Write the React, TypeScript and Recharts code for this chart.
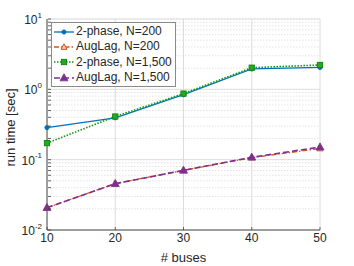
import React from 'react';
import { LineChart, Line, XAxis, YAxis, CartesianGrid, Legend } from 'recharts';

const buses = [10, 20, 30, 40, 50];
const twoPhase200 = [0.286, 0.394, 0.84, 1.95, 2.05];
const augLag200 = [0.0208, 0.0457, 0.0705, 0.107, 0.144];
const twoPhase1500 = [0.172, 0.411, 0.87, 2.03, 2.22];
const augLag1500 = [0.0208, 0.0455, 0.0705, 0.108, 0.151];

const xTicks = [10, 20, 30, 40, 50];
const majorTicks = [0.01, 0.1, 1, 10];
const minorTicks = [
  0.02, 0.03, 0.04, 0.05, 0.06, 0.07, 0.08, 0.09,
  0.2, 0.3, 0.4, 0.5, 0.6, 0.7, 0.8, 0.9,
  2, 3, 4, 5, 6, 7, 8, 9,
];
const allYTicks = [...majorTicks, ...minorTicks].sort((a, b) => a - b);
const exponents: Record<string, string> = { '0.01': '-2', '0.1': '-1', '1': '0', '10': '1' };

const data = buses.map((b, i) => ({
  buses: b,
  tp200: twoPhase200[i],
  al200: augLag200[i],
  tp1500: twoPhase1500[i],
  al1500: augLag1500[i],
}));

const series = [
  { key: 'tp200', name: '2-phase, N=200', color: '#0072BD', dash: undefined as string | undefined, width: 1.3, marker: 'dot' },
  { key: 'al200', name: 'AugLag, N=200', color: '#D95319', dash: '5 2 1.5 2', width: 1.3, marker: 'openTri' },
  { key: 'tp1500', name: '2-phase, N=1,500', color: '#119911', dash: '1.5 1.5', width: 1.6, marker: 'square' },
  { key: 'al1500', name: 'AugLag, N=1,500', color: '#7E2F8E', dash: '6 3', width: 1.6, marker: 'tri' },
];

const AX = '#404040';
const TXT = '#262626';
const FONT = '"Liberation Sans", Arial, Helvetica, sans-serif';

function Marker({ type, cx, cy, color }: { type: string; cx: number; cy: number; color: string }) {
  if (type === 'dot') return <circle cx={cx} cy={cy} r={2.1} fill={color} stroke={color} />;
  if (type === 'square')
    return <rect x={cx - 2.6} y={cy - 2.6} width={5.2} height={5.2} fill="#22aa22" stroke="#118811" strokeWidth={1} />;
  if (type === 'openTri')
    return <path d={`M${cx},${cy - 3.2} L${cx + 3},${cy + 2.3} L${cx - 3},${cy + 2.3} Z`} fill="#f4c8b0" stroke={color} strokeWidth={1} />;
  return <path d={`M${cx},${cy - 4.2} L${cx + 4},${cy + 2.8} L${cx - 4},${cy + 2.8} Z`} fill={color} stroke={color} strokeWidth={0.8} />;
}

const makeDot = (type: string, color: string) => (props: any) => {
  const { cx, cy, index } = props;
  if (cx == null || cy == null) return <g key={`n${index}`} />;
  return (
    <g key={`${type}-${index}`}>
      <Marker type={type} cx={cx} cy={cy} color={color} />
    </g>
  );
};

const YTickLeft = (props: any) => {
  const { x, y, payload } = props;
  const exp = exponents[String(payload.value)];
  return (
    <g>
      <line x1={x + 6} x2={x + 9} y1={y} y2={y} stroke={AX} strokeWidth={0.8} />
      {exp !== undefined && (
        <text x={x} y={y + 5} textAnchor="end" fontSize={12} fill={TXT} fontFamily={FONT}>
          <tspan>10</tspan>
          <tspan dy={-6.5} fontSize={8}>{exp}</tspan>
        </text>
      )}
    </g>
  );
};

const YTickRight = (props: any) => {
  const { x, y } = props;
  return <line x1={x} x2={x - 3} y1={y} y2={y} stroke={AX} strokeWidth={0.8} />;
};

const XTickBottom = (props: any) => {
  const { x, y, payload } = props;
  return (
    <g>
      <line x1={x} x2={x} y1={y - 3} y2={y - 6} stroke={AX} strokeWidth={0.8} />
      <text x={x} y={y + 9} textAnchor="middle" fontSize={12} fill={TXT} fontFamily={FONT}>
        {payload.value}
      </text>
    </g>
  );
};

const XTickTop = (props: any) => {
  const { x, y } = props;
  return <line x1={x} x2={x} y1={y} y2={y + 3} stroke={AX} strokeWidth={0.8} />;
};

const YLabel = (props: any) => {
  const vb = props.viewBox || { x: 0, y: 19, width: 47, height: 211 };
  const cx = vb.x + 15;
  const cy = vb.y + vb.height / 2 + 3;
  return (
    <text x={cx} y={cy} transform={`rotate(-90, ${cx}, ${cy})`} textAnchor="middle" fontSize={13} fill={TXT} fontFamily={FONT}>
      run time [sec]
    </text>
  );
};

const XLabel = (props: any) => {
  const vb = props.viewBox || { x: 47, y: 230, width: 273, height: 36 };
  return (
    <text x={vb.x + vb.width / 2} y={vb.y + 32} textAnchor="middle" fontSize={13} fill={TXT} fontFamily={FONT}>
      # buses
    </text>
  );
};

const renderLegend = () => (
  <div
    style={{
      background: '#fff',
      border: '1px solid #8a8a8a',
      padding: '1px 3px 1px 1px',
      fontFamily: FONT,
      fontSize: 12,
      color: TXT,
      lineHeight: '15.3px',
      display: 'inline-block',
    }}
  >
    {series.map((s) => (
      <div key={s.key} style={{ display: 'flex', alignItems: 'center', whiteSpace: 'nowrap' }}>
        <svg width={22} height={12} style={{ marginRight: 1 }}>
          <line x1={1} x2={21} y1={6} y2={6} stroke={s.color} strokeWidth={s.width} strokeDasharray={s.dash} />
          <Marker type={s.marker} cx={11} cy={6} color={s.color} />
        </svg>
        <span>{s.name}</span>
      </div>
    ))}
  </div>
);

export default function App() {
  return (
    <div style={{ position: 'absolute', left: 0, top: 0, width: 354, height: 266, background: '#fff', fontFamily: FONT }}>
      <LineChart width={354} height={266} data={data} margin={{ top: 19, right: 34, bottom: 0, left: 0 }}>
        <CartesianGrid xAxisId="x" yAxisId="minor" vertical={false} stroke="#e3e3e3" strokeDasharray="1.5 1.5" />
        <CartesianGrid xAxisId="x" yAxisId="major" horizontal={true} vertical={true} stroke="#dcdcdc" />
        <XAxis
          xAxisId="x"
          dataKey="buses"
          type="number"
          domain={[10, 50]}
          ticks={xTicks}
          height={36}
          tickSize={0}
          tickMargin={3}
          tickLine={false}
          axisLine={{ stroke: AX, strokeWidth: 0.9 }}
          tick={<XTickBottom />}
          label={<XLabel />}
        />
        <XAxis
          xAxisId="top"
          orientation="top"
          type="number"
          domain={[10, 50]}
          ticks={xTicks}
          height={0}
          tickSize={0}
          tickMargin={0}
          tickLine={false}
          axisLine={{ stroke: AX, strokeWidth: 0.9 }}
          tick={<XTickTop />}
        />
        <YAxis
          yAxisId="y"
          scale="log"
          type="number"
          domain={[0.01, 10]}
          ticks={allYTicks}
          interval={0}
          allowDataOverflow
          width={47}
          tickSize={0}
          tickMargin={5}
          tickLine={false}
          axisLine={{ stroke: AX, strokeWidth: 0.9 }}
          tick={<YTickLeft />}
          label={<YLabel />}
        />
        <YAxis
          yAxisId="right"
          orientation="right"
          scale="log"
          type="number"
          domain={[0.01, 10]}
          ticks={allYTicks}
          interval={0}
          allowDataOverflow
          width={0}
          tickSize={0}
          tickMargin={0}
          tickLine={false}
          axisLine={{ stroke: AX, strokeWidth: 0.9 }}
          tick={<YTickRight />}
        />
        <YAxis yAxisId="major" hide width={0} orientation="right" scale="log" type="number" domain={[0.01, 10]} ticks={majorTicks} interval={0} allowDataOverflow />
        <YAxis yAxisId="minor" hide width={0} orientation="right" scale="log" type="number" domain={[0.01, 10]} ticks={minorTicks} interval={0} allowDataOverflow />
        <Legend
          layout="vertical"
          align="center"
          verticalAlign="middle"
          content={renderLegend}
          wrapperStyle={{ left: 51, top: 22, width: 'auto', height: 'auto' }}
        />
        {series.map((s) => (
          <Line
            key={s.key}
            xAxisId="x"
            yAxisId="y"
            dataKey={s.key}
            name={s.name}
            stroke={s.color}
            strokeWidth={s.width}
            strokeDasharray={s.dash}
            dot={makeDot(s.marker, s.color)}
            activeDot={false}
            isAnimationActive={false}
          />
        ))}
      </LineChart>
    </div>
  );
}
